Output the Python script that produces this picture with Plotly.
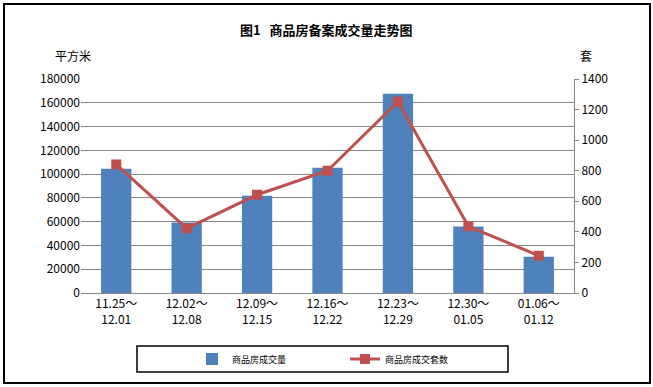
import plotly.graph_objects as go

categories = ["11.25～<br>12.01", "12.02～<br>12.08", "12.09～<br>12.15", "12.16～<br>12.22",
              "12.23～<br>12.29", "12.30～<br>01.05", "01.06～<br>01.12"]
area_sold = [104500, 59400, 81800, 105400, 167600, 56000, 30500]
units_sold = [841, 423, 643, 800, 1252, 436, 244]
left_ticks = [0, 20000, 40000, 60000, 80000, 100000, 120000, 140000, 160000, 180000]
right_ticks = [0, 200, 400, 600, 800, 1000, 1200, 1400]

FONT = "Noto Sans CJK SC"
W, H = 653, 387
L, R, T, B = 81, 79, 79, 94
pw, ph = W - L - R, H - T - B

def px(x):
    return (x - L) / pw

def py(y):
    return (H - B - y) / ph

fig = go.Figure()
fig.add_trace(go.Bar(
    x=categories, y=area_sold, name="商品房成交量",
    marker=dict(color="#4F81BD", line=dict(width=0)),
    yaxis="y",
))
fig.add_trace(go.Scatter(
    x=categories, y=units_sold, name="商品房成交套数",
    mode="lines+markers",
    line=dict(color="#C0504D", width=3),
    marker=dict(symbol="square", size=10, color="#C0504D"),
    yaxis="y2",
))

fig.update_layout(
    width=W, height=H,
    margin=dict(l=L, r=R, t=T, b=B),
    paper_bgcolor="white", plot_bgcolor="white",
    bargap=0.57,
    showlegend=True,
    legend=dict(orientation="h", xref="container", yref="container",
                x=192 / W, y=1 - 359 / H, xanchor="left", yanchor="middle",
                font=dict(family=FONT, size=9, color="#000"),
                entrywidth=108, itemwidth=30,
                bgcolor="rgba(0,0,0,0)"),
    xaxis=dict(showgrid=False, showline=True, linecolor="#868686", linewidth=1,
               ticks="", tickfont=dict(family=FONT, size=12, color="#000")),
    yaxis=dict(range=[0, 180000], tickvals=left_ticks, ticktext=[str(v) for v in left_ticks],
               showgrid=True, gridcolor="#868686", gridwidth=1, zeroline=False,
               showline=False, ticks="",
               tickfont=dict(family=FONT, size=12, color="#000")),
    yaxis2=dict(range=[0, 1400], tickvals=right_ticks, ticktext=[str(v) for v in right_ticks],
                overlaying="y", side="right", showgrid=False, zeroline=False,
                showline=True, linecolor="#868686", linewidth=1,
                ticks="outside", ticklen=4, tickcolor="#868686",
                tickfont=dict(family=FONT, size=12, color="#000")),
    annotations=[
        dict(text="<b>图1   商品房备案成交量走势图</b>", xref="paper", yref="paper",
             x=px(326), y=py(30), showarrow=False, xanchor="center", yanchor="middle",
             font=dict(family=FONT, size=13, color="#000")),
        dict(text="平方米", xref="paper", yref="paper", x=px(73), y=py(55),
             showarrow=False, xanchor="center", yanchor="middle",
             font=dict(family=FONT, size=12, color="#000")),
        dict(text="套", xref="paper", yref="paper", x=px(586), y=py(55),
             showarrow=False, xanchor="center", yanchor="middle",
             font=dict(family=FONT, size=12, color="#000")),
    ],
    shapes=[
        dict(type="rect", xref="paper", yref="paper", x0=px(4), x1=px(650),
             y0=py(383), y1=py(4), line=dict(color="#000", width=2)),
        dict(type="rect", xref="paper", yref="paper", x0=px(137), x1=px(508),
             y0=py(372), y1=py(346), line=dict(color="#000", width=1.5)),
    ],
)

fig.write_html("out.html")
